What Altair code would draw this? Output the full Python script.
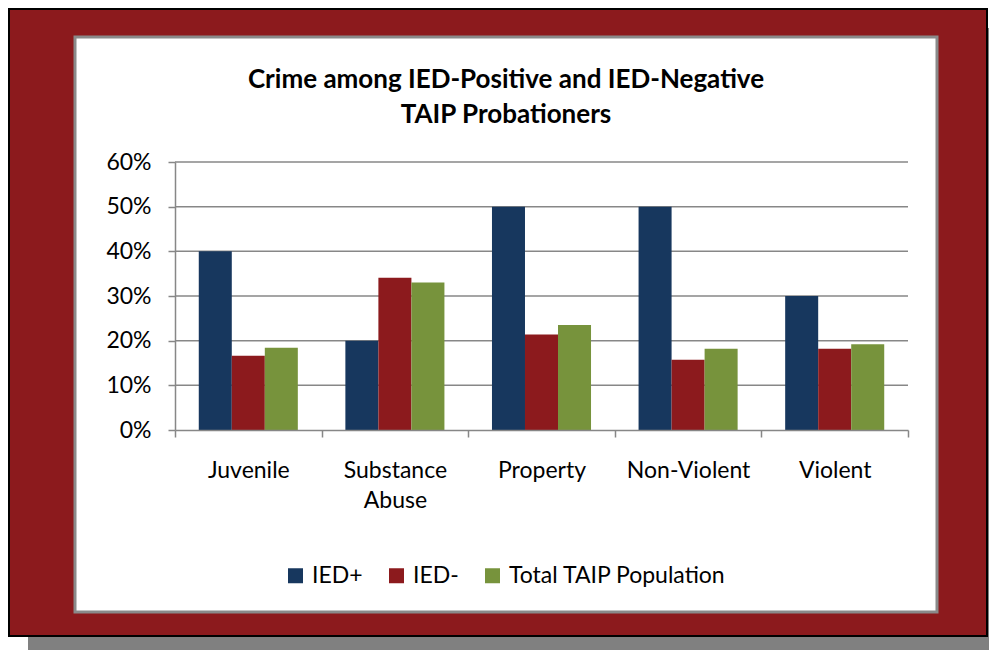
import altair as alt
import pandas as pd

categories = ["Juvenile", "Substance Abuse", "Property", "Non-Violent", "Violent"]
series = ["IED+", "IED-", "Total TAIP Population"]
ied_pos = [0.40, 0.20, 0.50, 0.50, 0.30]
ied_neg = [0.166, 0.341, 0.214, 0.157, 0.182]
total_pop = [0.184, 0.330, 0.235, 0.182, 0.192]
y_ticks = [0, 0.1, 0.2, 0.3, 0.4, 0.5, 0.6]
colors = ["#17375E", "#8C1A1D", "#77933C"]
title_lines = ["Crime among IED-Positive and IED-Negative", "TAIP Probationers"]

rows = []
for i, c in enumerate(categories):
    for s, vals in zip(series, [ied_pos, ied_neg, total_pop]):
        rows.append({"category": c, "series": s, "value": vals[i]})
df = pd.DataFrame(rows)

W, H = 733, 268
L, T = 175, 162
FONT = "Lato"
GRID = "#878787"


def px(X):
    return X - L


def py(Y):
    return Y - T


one = pd.DataFrame({"k": [0]})

shadow = alt.Chart(one).mark_rect(color="#808080").encode(
    x=alt.value(px(28)), x2=alt.value(px(989)), y=alt.value(py(28)), y2=alt.value(py(650))
)
frame = alt.Chart(one).mark_rect(fill="#8C1A1D", stroke="black", strokeWidth=2).encode(
    x=alt.value(px(9)), x2=alt.value(px(987)), y=alt.value(py(9)), y2=alt.value(py(636))
)
panel = alt.Chart(one).mark_rect(fill="white", stroke="#8a8a8a", strokeWidth=3).encode(
    x=alt.value(px(75)), x2=alt.value(px(937)), y=alt.value(py(37)), y2=alt.value(py(612))
)

title = alt.Chart(one).mark_text(
    text=title_lines, font=FONT, fontSize=26, fontWeight="bold", color="black",
    align="center", baseline="alphabetic", lineHeight=35,
).encode(x=alt.value(px(506)), y=alt.value(py(88)))

yscale = alt.Scale(domain=[0, 0.6], nice=False, zero=True)
y_axis = alt.Axis(
    values=y_ticks, format=".0%", grid=False, tickSize=7, tickWidth=1.5,
    tickColor=GRID, domainColor=GRID, domainWidth=1.5, labelFont=FONT,
    labelFontSize=23, labelColor="black", labelPadding=17, zindex=1,
)

grid = alt.Chart(pd.DataFrame({"value": y_ticks[1:]})).mark_rule(color=GRID, strokeWidth=1.5).encode(
    y=alt.Y("value:Q", scale=yscale, title=None, axis=y_axis), x=alt.value(0), x2=alt.value(W)
)

bars = alt.Chart(df).mark_bar().encode(
    x=alt.X(
        "category:N", sort=categories, title=None,
        scale=alt.Scale(paddingInner=0, paddingOuter=0),
        axis=alt.Axis(
            labelAngle=0, tickBand="extent", tickSize=7, tickWidth=1.5, tickColor=GRID,
            domainColor=GRID, domainWidth=1.5, labelFont=FONT, labelFontSize=23,
            labelColor="black", labelPadding=22, labelBaseline="top", labelLineHeight=30,
            labelExpr="split(datum.label, ' ')", zindex=1,
        ),
    ),
    xOffset=alt.XOffset("series:N", sort=series, scale=alt.Scale(paddingOuter=0.72, paddingInner=0)),
    y=alt.Y("value:Q", scale=yscale, title=None, axis=y_axis),
    color=alt.Color(
        "series:N", sort=series, scale=alt.Scale(domain=series, range=colors),
        legend=alt.Legend(
            title=None, orient="none", legendX=px(284), legendY=py(564), direction="horizontal",
            symbolType="square", symbolSize=225, symbolStrokeWidth=0, symbolOpacity=1,
            labelFont=FONT, labelFontSize=23, labelColor="black", labelOffset=5,
            labelLimit=400, columnPadding=22, padding=0, zindex=1,
        ),
    ),
)

chart = alt.layer(shadow, frame, panel, title, grid, bars).properties(
    width=W, height=H, autosize="none",
    padding={"left": L, "top": T, "right": 989 - L - W, "bottom": 650 - T - H},
    background="white",
).configure_view(stroke=None)

chart.save("out.html", embed_options={"renderer": "svg", "actions": False})
